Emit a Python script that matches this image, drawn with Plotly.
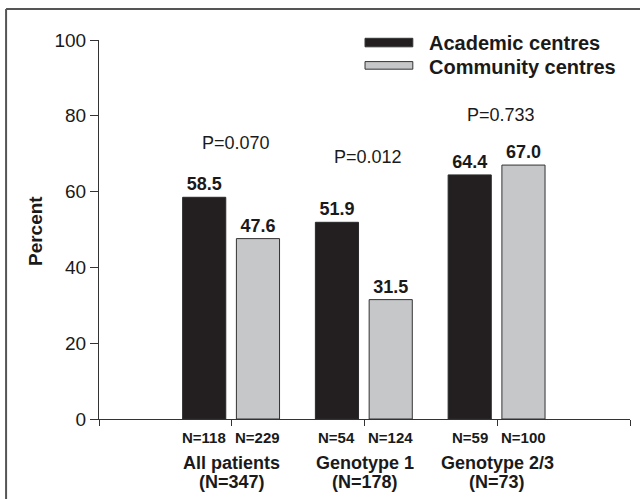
import plotly.graph_objects as go

# ---- data ----
groups = ["All patients", "Genotype 1", "Genotype 2/3"]
group_n = ["(N=347)", "(N=178)", "(N=73)"]
academic = [58.5, 51.9, 64.4]
community = [47.6, 31.5, 67.0]
academic_n = ["N=118", "N=54", "N=59"]
community_n = ["N=229", "N=124", "N=100"]
p_values = ["P=0.070", "P=0.012", "P=0.733"]
y_ticks = [0, 20, 40, 60, 80, 100]

# ---- layout helpers (styling / placement only) ----
FONT = "Liberation Sans, Arial, Helvetica, sans-serif"
TXT = "#1a1a1a"
BLACK = "#231f20"
GRAY = "#c6c7c9"
xpos = list(range(len(groups)))
BW = 0.325
OFF_A = -0.37
OFF_C = 0.035
p_label_y = [72.8, 69.1, 80.2]

fig = go.Figure()
fig.add_trace(go.Bar(
    x=xpos, y=academic, width=BW, offset=OFF_A, name="Academic centres",
    marker=dict(color=BLACK, line=dict(color="#2a2a2a", width=1)),
    text=[f"{v:.1f}" for v in academic], textposition="outside",
    textfont=dict(family=FONT, size=18, color=TXT, weight="bold"),
    cliponaxis=False, showlegend=False, hoverinfo="skip",
))
fig.add_trace(go.Bar(
    x=xpos, y=community, width=BW, offset=OFF_C, name="Community centres",
    marker=dict(color=GRAY, line=dict(color="#333333", width=1)),
    text=[f"{v:.1f}" for v in community], textposition="outside",
    textfont=dict(family=FONT, size=18, color=TXT, weight="bold"),
    cliponaxis=False, showlegend=False, hoverinfo="skip",
))

ann = []
for i in xpos:
    ann.append(dict(x=i + OFF_A + BW / 2, y=-0.0475, xref="x", yref="paper",
                    text=academic_n[i], showarrow=False, yanchor="middle",
                    font=dict(family=FONT, size=15, color=TXT, weight="bold")))
    ann.append(dict(x=i + OFF_C + BW / 2, y=-0.0475, xref="x", yref="paper",
                    text=community_n[i], showarrow=False, yanchor="middle",
                    font=dict(family=FONT, size=15, color=TXT, weight="bold")))
    ann.append(dict(x=i, y=-0.116, xref="x", yref="paper", text=groups[i],
                    showarrow=False, yanchor="middle",
                    font=dict(family=FONT, size=18, color=TXT, weight="bold")))
    ann.append(dict(x=i, y=-0.166, xref="x", yref="paper", text=group_n[i],
                    showarrow=False, yanchor="middle",
                    font=dict(family=FONT, size=18, color=TXT, weight="bold")))
    ann.append(dict(x=i + 0.03, y=p_label_y[i], xref="x", yref="y",
                    text=p_values[i], showarrow=False, yanchor="middle",
                    font=dict(family=FONT, size=18, color=TXT)))

# y-axis title
ann.append(dict(x=-0.1205, y=0.496, xref="paper", yref="paper", text="Percent",
                textangle=-90, showarrow=False, xanchor="center", yanchor="middle",
                font=dict(family=FONT, size=19, color=TXT, weight="bold")))

# custom legend
legend_items = [("Academic centres", BLACK, 0.991, (0.982, 1.0045)),
                ("Community centres", GRAY, 0.930, (0.923, 0.943))]
shapes = []
for label, col, ty, (y0, y1) in legend_items:
    shapes.append(dict(type="rect", xref="paper", yref="paper",
                       x0=0.501, x1=0.591, y0=y0, y1=y1,
                       fillcolor=col, line=dict(color="#333333", width=1)))
    ann.append(dict(x=0.618, y=ty, xref="paper", yref="paper", text=label,
                    xanchor="left", yanchor="middle", showarrow=False,
                    font=dict(family=FONT, size=20, color=TXT, weight="bold")))

# outer frame (top & left lines)
shapes.append(dict(type="line", xref="paper", yref="paper",
                   x0=-0.175, x1=1.02, y0=1.082, y1=1.082,
                   line=dict(color="#555555", width=2)))
shapes.append(dict(type="line", xref="paper", yref="paper",
                   x0=-0.175, x1=-0.175, y0=1.082, y1=-0.22,
                   line=dict(color="#555555", width=2)))

fig.update_layout(
    width=640, height=499,
    margin=dict(l=99, r=10, t=40, b=80),
    paper_bgcolor="white", plot_bgcolor="white",
    barmode="overlay",
    annotations=ann, shapes=shapes,
    font=dict(family=FONT, color=TXT),
    xaxis=dict(range=[-1, 3], tickvals=[-1, 0, 1, 2, 3],
               ticktext=["", "", "", "", ""], ticks="outside", ticklen=6,
               tickcolor="#333333", showline=True, linecolor="#333333",
               linewidth=1.2, showgrid=False, zeroline=False, fixedrange=True),
    yaxis=dict(range=[0, 100], tickvals=y_ticks, ticks="outside", ticklen=8,
               tickcolor="#333333", showline=True, linecolor="#333333",
               linewidth=1.2, showgrid=False, zeroline=False, fixedrange=True,
               tickfont=dict(family=FONT, size=19, color=TXT)),
)

fig.write_html("out.html",
               config={"displayModeBar": False},
               post_script="document.body.style.margin='0';"
                           "document.body.style.overflow='hidden';")
